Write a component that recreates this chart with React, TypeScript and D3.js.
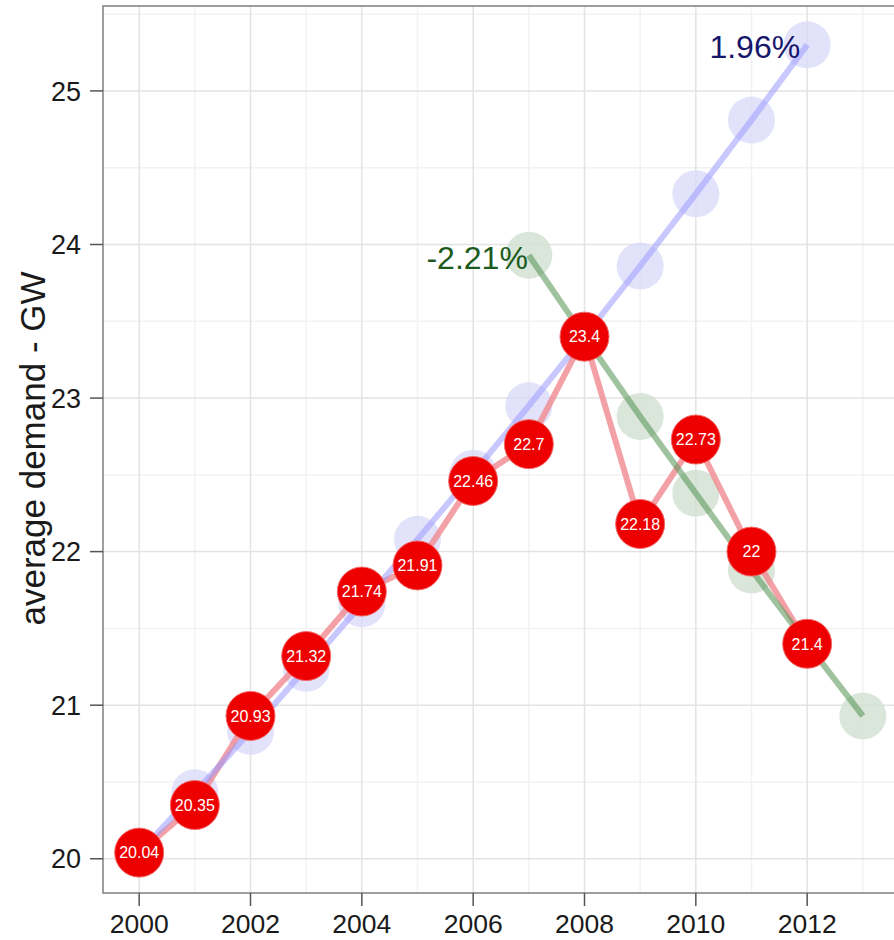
import React from "react";
import * as d3 from "d3";

const years = [2000, 2001, 2002, 2003, 2004, 2005, 2006, 2007, 2008, 2009, 2010, 2011, 2012];
const actual = [20.04, 20.35, 20.93, 21.32, 21.74, 21.91, 22.46, 22.7, 23.4, 22.18, 22.73, 22, 21.4];
const growthYears = [2000, 2001, 2002, 2003, 2004, 2005, 2006, 2007, 2008, 2009, 2010, 2011, 2012];
const growthTrend = [20.04, 20.43, 20.83, 21.24, 21.66, 22.08, 22.51, 22.95, 23.4, 23.86, 24.33, 24.81, 25.3];
const declineYears = [2007, 2008, 2009, 2010, 2011, 2012, 2013];
const declineTrend = [23.93, 23.4, 22.88, 22.38, 21.88, 21.4, 20.93];
const growthLabel = "1.96%";
const declineLabel = "-2.21%";
const xTicks = [2000, 2002, 2004, 2006, 2008, 2010, 2012];
const xMinor = [2001, 2003, 2005, 2007, 2009, 2011, 2013];
const yTicks = [20, 21, 22, 23, 24, 25];
const yMinor = [20.5, 21.5, 22.5, 23.5, 24.5, 25.5];
const yTitle = "average demand - GW";

const W = 894, H = 940;
const pl = 103, pr = 899, pt = 6, pb = 893;
const font = "'Liberation Sans', Arial, Helvetica, sans-serif";

export default function App() {
  const x = d3.scaleLinear().domain([1999.35, 2013.65]).range([pl, pr]);
  const y = d3.scaleLinear().domain([19.777, 25.553]).range([pb, pt]);
  const line = d3.line<[number, number]>().x(d => x(d[0])).y(d => y(d[1]));
  const red = years.map((t, i) => [t, actual[i]] as [number, number]);
  const blue = growthYears.map((t, i) => [t, growthTrend[i]] as [number, number]);
  const green = declineYears.map((t, i) => [t, declineTrend[i]] as [number, number]);
  return (
    <div style={{ position: "absolute", left: 0, top: 0 }}>
      <svg width={W} height={H} style={{ display: "block", background: "#fff" }}>
        <defs>
          <clipPath id="panel">
            <rect x={pl} y={pt} width={pr - pl} height={pb - pt} />
          </clipPath>
        </defs>
        <rect x={pl} y={pt} width={pr - pl} height={pb - pt} fill="#fff" />
        <g clipPath="url(#panel)">
          {xMinor.map(v => (
            <line key={"xm" + v} x1={x(v)} x2={x(v)} y1={pt} y2={pb} stroke="#f2f2f2" strokeWidth={1.5} />
          ))}
          {yMinor.map(v => (
            <line key={"ym" + v} x1={pl} x2={pr} y1={y(v)} y2={y(v)} stroke="#f2f2f2" strokeWidth={1.5} />
          ))}
          {xTicks.map(v => (
            <line key={"xg" + v} x1={x(v)} x2={x(v)} y1={pt} y2={pb} stroke="#e3e3e3" strokeWidth={1.5} />
          ))}
          {yTicks.map(v => (
            <line key={"yg" + v} x1={pl} x2={pr} y1={y(v)} y2={y(v)} stroke="#e3e3e3" strokeWidth={1.5} />
          ))}
          {blue.map((d, i) => (
            <circle key={"bc" + i} cx={x(d[0])} cy={y(d[1])} r={23.5} fill="#d8d8fa" fillOpacity={0.75} />
          ))}
          {green.map((d, i) => (
            <circle key={"gc" + i} cx={x(d[0])} cy={y(d[1])} r={23.5} fill="#cfe0cf" fillOpacity={0.8} />
          ))}
          <path d={line(red) || ""} fill="none" stroke="#f08a90" strokeOpacity={0.8} strokeWidth={6} />
          <path d={line(blue) || ""} fill="none" stroke="#9a9aff" strokeOpacity={0.55} strokeWidth={6} />
          <path d={line(green) || ""} fill="none" stroke="#5f9a5f" strokeOpacity={0.6} strokeWidth={6} />
          {red.map((d, i) => (
            <g key={"rc" + i}>
              <circle cx={x(d[0])} cy={y(d[1])} r={24.5} fill="#ee0000" stroke="#f26a6a" strokeWidth={1} />
              <text x={x(d[0])} y={y(d[1])} dy="0.36em" textAnchor="middle" fill="#fff" fontFamily={font} fontSize={16}>
                {String(d[1])}
              </text>
            </g>
          ))}
          <text x={x(growthYears[growthYears.length - 1]) - 7} y={y(growthTrend[growthTrend.length - 1])} dy="0.4em" textAnchor="end" fill="#16166a" fontFamily={font} fontSize={32}>
            {growthLabel}
          </text>
          <text x={x(declineYears[0]) - 1} y={y(declineTrend[0])} dy="0.42em" textAnchor="end" fill="#1d5a1d" fontFamily={font} fontSize={32}>
            {declineLabel}
          </text>
        </g>
        <rect x={pl} y={pt} width={pr - pl} height={pb - pt} fill="none" stroke="#7f7f7f" strokeWidth={1.5} />
        {yTicks.map(v => (
          <g key={"yt" + v}>
            <line x1={pl - 13} x2={pl} y1={y(v)} y2={y(v)} stroke="#555" strokeWidth={1.5} />
            <text x={pl - 22} y={y(v)} dy="0.36em" textAnchor="end" fill="#1a1a1a" fontFamily={font} fontSize={27}>
              {v}
            </text>
          </g>
        ))}
        {xTicks.map(v => (
          <g key={"xt" + v}>
            <line x1={x(v)} x2={x(v)} y1={pb} y2={pb + 13} stroke="#555" strokeWidth={1.5} />
            <text x={x(v)} y={pb + 40} textAnchor="middle" fill="#1a1a1a" fontFamily={font} fontSize={26.5}>
              {v}
            </text>
          </g>
        ))}
        <text transform={`translate(45, ${(pt + pb) / 2 - 1}) rotate(-90)`} textAnchor="middle" fill="#1a1a1a" fontFamily={font} fontSize={35}>
          {yTitle}
        </text>
      </svg>
    </div>
  );
}
